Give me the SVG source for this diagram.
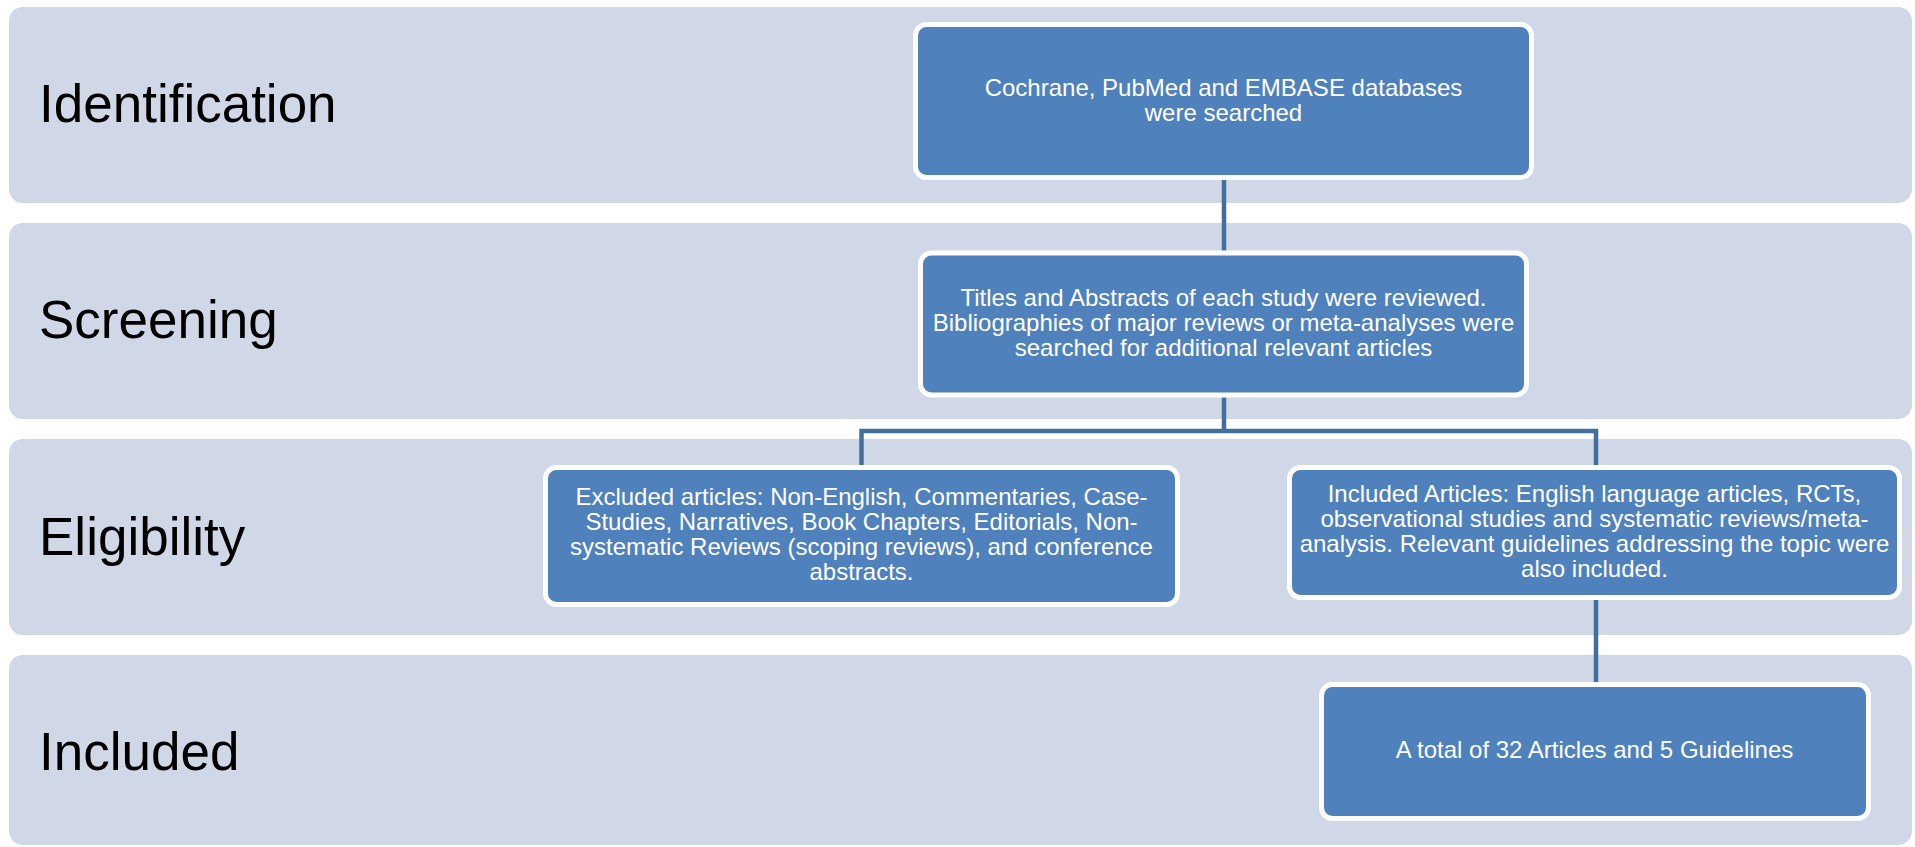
<svg xmlns="http://www.w3.org/2000/svg" width="1915" height="847" viewBox="0 0 1915 847">
<style>
.band{fill:#D0D8E8;}
.lbl{font-family:"Liberation Sans",Arial,sans-serif;font-size:53px;fill:#000000;}
.box{fill:#4F81BD;stroke:#FFFFFF;stroke-width:5;}
.txt{font-family:"Liberation Sans",Arial,sans-serif;font-size:24px;fill:#FFFFFF;text-anchor:middle;}
.conn{fill:none;stroke:#41709F;stroke-width:4.5;stroke-linejoin:miter;}
</style>
<rect width="1915" height="847" fill="#FFFFFF"/>
<g id="bands">
<g id="band-identification">
<rect class="band" x="9" y="7" width="1903" height="196" rx="14"/>
<text class="lbl" x="39" y="122">Identification</text>
</g>
<g id="band-screening">
<rect class="band" x="9" y="223" width="1903" height="196" rx="14"/>
<text class="lbl" x="39" y="338">Screening</text>
</g>
<g id="band-eligibility">
<rect class="band" x="9" y="439" width="1903" height="196" rx="14"/>
<text class="lbl" x="39" y="555">Eligibility</text>
</g>
<g id="band-included">
<rect class="band" x="9" y="655" width="1903" height="190" rx="14"/>
<text class="lbl" x="39" y="770">Included</text>
</g>
</g>
<g id="connectors">
<path class="conn" d="M1224 178 V253"/>
<path class="conn" d="M1224 395 V431 M861.5 469 V431 H1596 V469"/>
<path class="conn" d="M1596 598 V686"/>
</g>
<g id="node-search">
<rect class="box" x="915.5" y="24.5" width="616" height="153" rx="11"/>
<text class="txt"><tspan x="1223.5" y="96">Cochrane, PubMed and EMBASE databases</tspan><tspan x="1223.5" y="121">were searched</tspan></text>
</g>
<g id="node-screen">
<rect class="box" x="920.5" y="253" width="606" height="142" rx="11"/>
<text class="txt"><tspan x="1223.5" y="306">Titles and Abstracts of each study were reviewed.</tspan><tspan x="1223.5" y="331">Bibliographies of major reviews or meta-analyses were</tspan><tspan x="1223.5" y="356">searched for additional relevant articles</tspan></text>
</g>
<g id="node-excluded">
<rect class="box" x="545.5" y="467.5" width="632" height="137" rx="11"/>
<text class="txt"><tspan x="861.5" y="505">Excluded articles: Non-English, Commentaries, Case-</tspan><tspan x="861.5" y="530">Studies, Narratives, Book Chapters, Editorials, Non-</tspan><tspan x="861.5" y="555">systematic Reviews (scoping reviews), and conference</tspan><tspan x="861.5" y="580">abstracts.</tspan></text>
</g>
<g id="node-included-articles">
<rect class="box" x="1289.5" y="467.5" width="610" height="130" rx="11"/>
<text class="txt"><tspan x="1594.5" y="502">Included Articles: English language articles, RCTs,</tspan><tspan x="1594.5" y="527">observational studies and systematic reviews/meta-</tspan><tspan x="1594.5" y="552">analysis. Relevant guidelines addressing the topic were</tspan><tspan x="1594.5" y="577">also included.</tspan></text>
</g>
<g id="node-total">
<rect class="box" x="1321.5" y="684.5" width="547" height="134" rx="11"/>
<text class="txt"><tspan x="1594.5" y="758">A total of 32 Articles and 5 Guidelines</tspan></text>
</g>
</svg>
